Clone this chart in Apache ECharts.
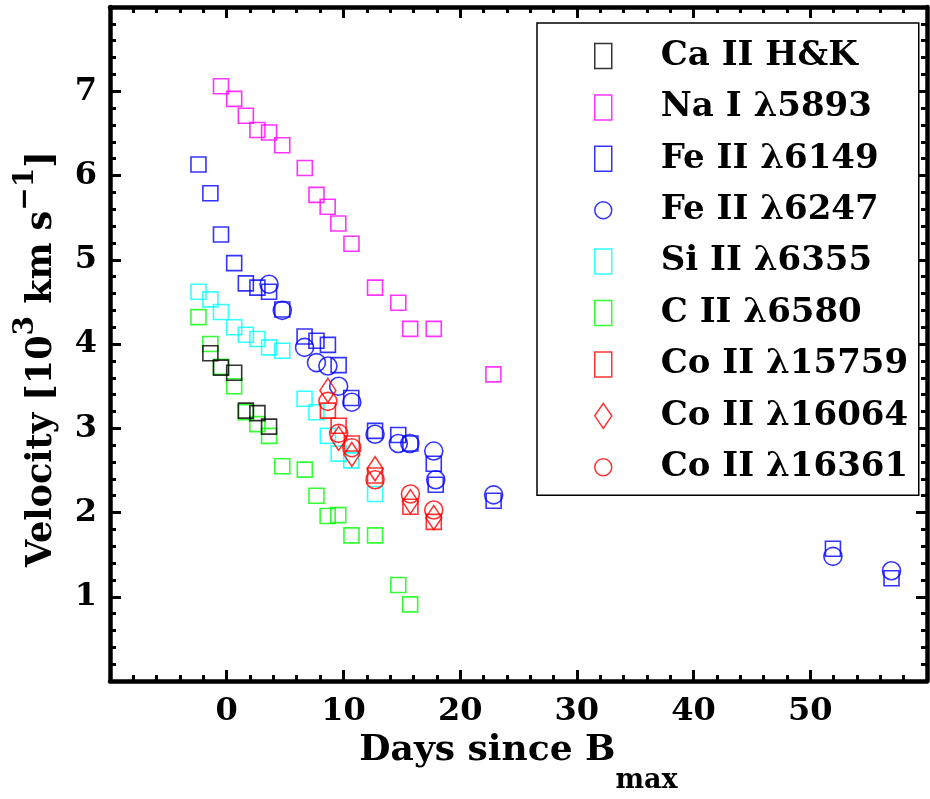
<!DOCTYPE html>
<html>
<head>
<meta charset="utf-8">
<script src="https://cdn.jsdelivr.net/npm/echarts@6/dist/echarts.min.js"></script>
<style>
html,body{margin:0;padding:0;background:#fff;}
#chart{width:930px;height:799px;}
</style>
</head>
<body>
<div id="chart"></div>
<script>
// ---- data (days since B max, velocity in 10^3 km/s) ----
const seriesNames = ['Ca II H&K', 'Na I λ5893', 'Fe II λ6149', 'Fe II λ6247', 'Si II λ6355', 'C II λ6580', 'Co II λ15759', 'Co II λ16064', 'Co II λ16361'];

const caDays = [-1.40, -0.49, 0.64, 1.64, 2.63, 3.63];
const caVel  = [3.89, 3.72, 3.66, 3.21, 3.18, 3.02];

const naDays = [-0.49, 0.64, 1.64, 2.63, 3.63, 4.76, 6.69, 7.69, 8.65, 9.56, 10.69, 12.71, 14.70, 15.72, 17.74, 22.85];
const naVel  = [7.06, 6.91, 6.71, 6.54, 6.51, 6.36, 6.09, 5.77, 5.63, 5.43, 5.19, 4.67, 4.49, 4.18, 4.18, 3.64];

const fe6149Days = [-2.42, -1.40, -0.49, 0.64, 1.64, 2.63, 3.63, 4.76, 6.67, 7.69, 8.67, 9.59, 10.67, 12.71, 14.70, 15.74, 17.74, 17.91, 22.87, 51.94, 56.96];
const fe6149Vel  = [6.13, 5.79, 5.30, 4.96, 4.72, 4.67, 4.62, 4.41, 4.09, 4.04, 3.99, 3.75, 3.36, 2.97, 2.92, 2.82, 2.58, 2.33, 2.14, 1.57, 1.22];

const fe6247Days = [3.63, 4.76, 6.67, 7.69, 8.67, 9.59, 10.72, 12.71, 14.70, 15.69, 17.74, 17.91, 22.87, 51.94, 56.96];
const fe6247Vel  = [4.71, 4.40, 3.96, 3.78, 3.74, 3.50, 3.31, 2.93, 2.82, 2.82, 2.73, 2.39, 2.21, 1.48, 1.31];

const siDays = [-2.42, -1.40, -0.49, 0.64, 1.64, 2.63, 3.63, 4.76, 6.67, 7.69, 8.67, 9.59, 10.67, 12.71];
const siVel  = [4.62, 4.53, 4.38, 4.20, 4.11, 4.06, 3.96, 3.92, 3.35, 3.19, 2.91, 2.70, 2.62, 2.22];

const cDays = [-2.42, -1.40, -0.49, 0.64, 1.64, 2.63, 3.63, 4.76, 6.69, 7.69, 8.65, 9.56, 10.69, 12.71, 14.70, 15.72];
const cVel  = [4.32, 4.00, 3.73, 3.50, 3.19, 3.05, 2.91, 2.55, 2.51, 2.20, 1.96, 1.97, 1.73, 1.73, 1.14, 0.91];

const coDays = [8.67, 9.59, 10.72, 12.71, 15.74, 17.74];
const co15759Vel = [3.21, 3.03, 2.82, 2.44, 2.07, 1.89];
const co16064Vel = [3.45, 2.88, 2.69, 2.52, 2.13, 1.94];
const co16361Vel = [3.32, 2.94, 2.77, 2.39, 2.22, 2.03];

const xTickLabels = [0, 10, 20, 30, 40, 50];
const yTickLabels = [1, 2, 3, 4, 5, 6, 7];

// ---- styling ----
const FONT = 'DejaVu Serif';
function pairs(xs, ys) { return xs.map((x, i) => [x, ys[i]]); }
function mk(name, xs, ys, symbol, size, color, z) {
  return {
    type: 'scatter', name: name, data: pairs(xs, ys),
    symbol: symbol, symbolSize: size, z: z, silent: true,
    itemStyle: { color: 'transparent', borderColor: color, borderWidth: 1.6 },
    emphasis: { disabled: true }
  };
}

const axisCommon = {
  type: 'value',
  axisLine: { onZero: false, lineStyle: { color: '#000', width: 4.5 } },
  axisTick: { inside: true, length: 11, lineStyle: { color: '#000', width: 3 } },
  minorTick: { show: true, splitNumber: 5, length: 6, lineStyle: { color: '#000', width: 3 } },
  splitLine: { show: false },
  minorSplitLine: { show: false }
};
const labelStyle = { fontFamily: FONT, fontWeight: 'bold', fontSize: 32, color: '#000' };

const chart = echarts.init(document.getElementById('chart'), null, { renderer: 'canvas' });
chart.setOption({
  animation: false,
  backgroundColor: '#fff',
  grid: { left: 110, right: -2, top: 7, bottom: 113, containLabel: false },
  xAxis: [
    Object.assign({}, axisCommon, {
      min: -10, max: 60, interval: 10, position: 'bottom',
      axisLabel: Object.assign({}, labelStyle, {
        margin: 15,
        formatter: v => (xTickLabels.indexOf(v) >= 0 ? String(v) : '')
      }),
      name: 'Days since B{sub|max}', nameLocation: 'middle', nameGap: 17,
      nameTextStyle: {
        fontFamily: FONT, fontWeight: 'bold', fontSize: 36, color: '#000',
        rich: { sub: { fontFamily: FONT, fontWeight: 'bold', fontSize: 27, color: '#000', padding: [59, 0, 0, 0] } }
      }
    }),
    Object.assign({}, axisCommon, {
      min: -10, max: 60, interval: 10, position: 'top',
      axisLabel: { show: false }
    })
  ],
  yAxis: [
    Object.assign({}, axisCommon, {
      min: 0, max: 8, interval: 1, position: 'left',
      axisLabel: Object.assign({}, labelStyle, {
        margin: 13,
        formatter: v => (yTickLabels.indexOf(v) >= 0 ? String(v) : '')
      }),
      name: 'Velocity [10{sup|3} km s{sup|−1}]', nameLocation: 'middle', nameRotate: 90, nameGap: 38,
      nameTextStyle: {
        fontFamily: FONT, fontWeight: 'bold', fontSize: 35, color: '#000',
        padding: [0, 30, 0, 0],
        rich: { sup: { fontFamily: FONT, fontWeight: 'bold', fontSize: 28, color: '#000', padding: [0, 0, 32, 0] } }
      }
    }),
    Object.assign({}, axisCommon, {
      min: 0, max: 8, interval: 1, position: 'right',
      axisLabel: { show: false }
    })
  ],
  legend: {
    orient: 'vertical', left: 537, top: 23,
    padding: [13, 0, 8, 57],
    itemWidth: 17, itemHeight: 25, itemGap: 11.4,
    borderColor: '#000', borderWidth: 1.5,
    backgroundColor: '#fff',
    selectedMode: false,
    itemStyle: { borderWidth: 1.5 },
    textStyle: { fontFamily: FONT, fontWeight: 'bold', fontSize: 34, color: '#000', lineHeight: 40, width: 258, padding: [0, 0, 0, 44] },
    data: seriesNames.map(n => ({ name: n, symbolKeepAspect: n !== 'Co II λ16064' }))
  },
  series: [
    mk(seriesNames[0], caDays, caVel, 'rect', 15, '#000000', 5),
    mk(seriesNames[1], naDays, naVel, 'rect', 15, '#ff00ff', 3),
    mk(seriesNames[2], fe6149Days, fe6149Vel, 'rect', 15, '#0000ff', 3),
    mk(seriesNames[3], fe6247Days, fe6247Vel, 'circle', 18, '#0000ff', 3),
    mk(seriesNames[4], siDays, siVel, 'rect', 15, '#00ffff', 3),
    mk(seriesNames[5], cDays, cVel, 'rect', 15, '#00ff00', 3),
    mk(seriesNames[6], coDays, co15759Vel, 'rect', 15, '#ff0000', 3),
    mk(seriesNames[7], coDays, co16064Vel, 'diamond', [16, 24], '#ff0000', 3),
    mk(seriesNames[8], coDays, co16361Vel, 'circle', 18, '#ff0000', 3)
  ]
});
</script>
</body>
</html>
